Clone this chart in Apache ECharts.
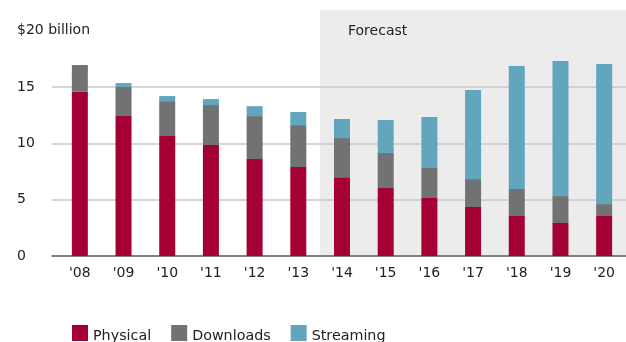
<!DOCTYPE html>
<html>
<head>
<meta charset="utf-8">
<script src="https://cdn.jsdelivr.net/npm/echarts@6/dist/echarts.min.js"></script>
<style>html,body{margin:0;padding:0;background:#fff}#c{width:626px;height:342px}</style>
</head>
<body>
<div id="c"></div>
<script>
const years = ["'08","'09","'10","'11","'12","'13","'14","'15","'16","'17","'18","'19","'20"];
const physical  = [14.58, 12.42, 10.65, 9.85, 8.6, 7.9, 7.0, 6.03, 5.15, 4.35, 3.55, 2.93, 3.55];
const downloads = [2.37, 2.58, 3.1, 3.55, 3.82, 3.72, 3.47, 3.11, 2.66, 2.48, 2.4, 2.39, 1.06];
const streaming = [0, 0.35, 0.45, 0.53, 0.88, 1.16, 1.69, 2.93, 4.52, 7.9, 10.91, 11.98, 12.43];
const forecastStart = "'14";
const yTicks = [0, 5, 10, 15, 20];

const FONT = 'DejaVu Sans';
const TXT = '#222';

const chart = echarts.init(document.getElementById('c'));
chart.setOption({
  animation: false,
  textStyle: { fontFamily: FONT },
  title: {
    text: 'Forecast', left: 348, top: 24, padding: 0,
    textStyle: { fontFamily: FONT, fontSize: 14, fontWeight: 'normal', color: TXT }
  },
  legend: {
    left: 72, top: 325, padding: 0, itemWidth: 16, itemHeight: 16, itemGap: 20,
    icon: 'rect',
    formatter: '{a|{name}}',
    textStyle: { fontFamily: FONT, fontSize: 14.3, color: TXT,
      rich: { a: { fontFamily: FONT, fontSize: 14.3, color: TXT, padding: [7, 0, 0, 0] } } },
    data: ['Physical', 'Downloads', 'Streaming']
  },
  grid: [
    { left: 52, right: 0, top: 30.7, bottom: 86 },
    { left: 58, right: 0, top: 30.7, bottom: 86 }
  ],
  xAxis: [
    { type: 'category', gridIndex: 0, data: years,
      axisLine: { show: true, lineStyle: { color: '#666', width: 1.5 } },
      axisTick: { show: false }, axisLabel: { show: false }, splitLine: { show: false } },
    { type: 'category', gridIndex: 1, data: years,
      axisLine: { show: false }, axisTick: { show: false },
      axisLabel: { fontFamily: FONT, fontSize: 14, color: TXT, margin: 10 } }
  ],
  yAxis: [
    { type: 'value', gridIndex: 0, min: yTicks[0], max: yTicks[yTicks.length - 1], interval: 5,
      axisLine: { show: false }, axisTick: { show: false },
      splitLine: { show: true, showMaxLine: false, lineStyle: { color: '#c8c8c8', width: 1.5 } },
      axisLabel: { align: 'left', margin: 35, fontFamily: FONT, fontSize: 14, color: TXT,
        formatter: v => v === 20 ? '$20 billion' : String(v) } },
    { type: 'value', gridIndex: 1, min: yTicks[0], max: yTicks[yTicks.length - 1], interval: 5,
      show: false, splitLine: { show: false } }
  ],
  series: [
    { type: 'custom', xAxisIndex: 1, yAxisIndex: 1, z: -1, silent: true,
      data: [[forecastStart, 0]],
      renderItem: (params, api) => {
        const cs = params.coordSys;
        const x0 = api.coord([api.value(0), 0])[0] - api.size([1, 0])[0] / 2;
        const top = cs.y - 20.7;
        return { type: 'rect',
          shape: { x: x0, y: top, width: cs.x + cs.width - x0, height: cs.y + cs.height - top },
          style: { fill: '#ebeceb' } };
      } },
    { name: 'Physical', type: 'bar', stack: 'm', xAxisIndex: 1, yAxisIndex: 1, barWidth: 16,
      itemStyle: { color: '#a50034' }, data: physical },
    { name: 'Downloads', type: 'bar', stack: 'm', xAxisIndex: 1, yAxisIndex: 1, barWidth: 16,
      itemStyle: { color: '#717273' }, data: downloads },
    { name: 'Streaming', type: 'bar', stack: 'm', xAxisIndex: 1, yAxisIndex: 1, barWidth: 16,
      itemStyle: { color: '#62a6bd' }, data: streaming }
  ]
});
</script>
</body>
</html>
